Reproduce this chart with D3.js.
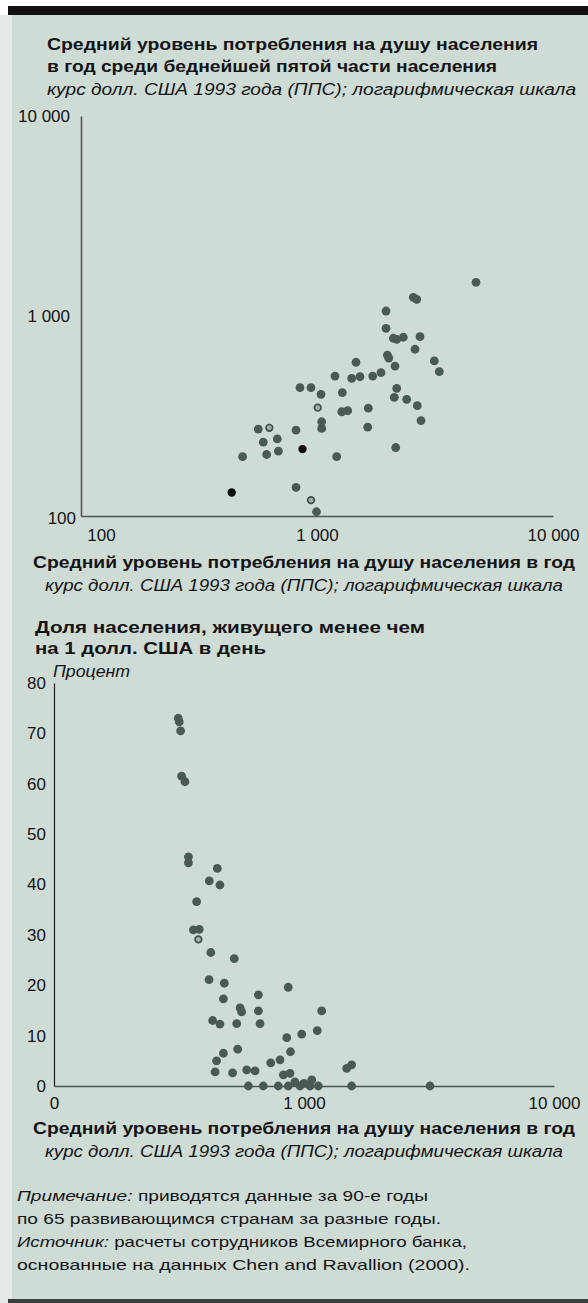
<!DOCTYPE html>
<html><head><meta charset="utf-8">
<script src="https://cdn.jsdelivr.net/npm/d3@7"></script>
<style>
body{margin:0;background:#fff}
svg{display:block}
text{font-family:"Liberation Sans",Arial,Helvetica,sans-serif;fill:#141414}
</style>
</head><body>
<svg id="c" width="588" height="1303"></svg>
<script>
// ---------- DATA ----------
// Chart 1: mean consumption per capita (x) vs consumption of poorest fifth (y), 1993 PPP $
const topConsumption = [4718,2559,2646,1961,1961,2106,2321,2732,2602,1987,2141,3141,3298,1463,1192,1403,1521,1722,1867,2177,1280,1040,847,943,1007,1273,1349,1650,2126,2399,2661,2759,1640,1047,1047,2156,1212,564,628,815,592,679,868,484,612,686,435,815,943,995,2177,2015];
const topPoorest     = [1474,1240,1212,1059,868,774,783,788,682,638,562,596,527,587,501,488,497,501,521,435,414,406,438,438,348,332,336,346,392,383,356,300,278,296,274,220,198,272,276,269,234,243,216,198,203,211,131,139,120,105,764,616];
const topKind        = ["n","n","n","n","n","n","n","n","n","n","n","n","n","n","n","n","n","n","n","n","n","n","n","n","r","n","n","n","n","n","n","n","n","n","n","n","n","n","r","n","n","n","b","n","n","n","b","n","r","n","n","n"];

// Chart 2: mean consumption per capita (x) vs share living on less than $1/day (y, %)
const botConsumption = [314,317,321,324,334,345,345,450,418,461,372,381,361,378,424,526,417,480,476,657,555,563,657,431,461,538,667,865,853,883,543,476,447,441,518,590,637,736,802,827,879,1074,1177,979,1130,1482,1551,599,687,789,865,964,1057,1141,1551,3192,1000,920];
const botPoverty     = [73.0,72.3,70.5,61.5,60.4,45.5,44.3,43.2,40.7,39.9,36.6,31.1,31.0,29.1,26.5,25.3,21.1,20.4,17.3,18.1,15.5,14.7,14.9,13.0,12.3,12.4,12.4,19.6,9.6,6.8,7.3,6.5,5.0,2.8,2.6,3.2,3.0,4.6,5.2,2.2,2.5,1.2,14.9,10.3,11.0,3.5,4.2,0,0,0,0,0,0,0,0,0,0.5,0.8];
const botKind        = botConsumption.map((d,i)=> i===13 ? "r" : "n");

// Ticks
const topXTicks = [100,1000,10000];
const topXTickLabels = ["100","1 000","10 000"];
const topYTicks = [100,1000,10000];
const topYTickLabels = ["100","1 000","10 000"];
const botXTicks = [100,1000,10000];
const botXTickLabels = ["0","1 000","10 000"];
const botYTicks = [0,10,20,30,40,50,60,70,80];

// Texts
const title1 = ["Средний уровень потребления на душу населения","в год среди беднейшей пятой части населения"];
const unitsLog = "курс долл. США 1993 года (ППС); логарифмическая шкала";
const xTitle = "Средний уровень потребления на душу населения в год";
const title2 = ["Доля населения, живущего менее чем","на 1 долл. США в день"];
const unit2 = "Процент";
const notes = [
  [["Примечание:",true],[" приводятся данные за 90-е годы",false]],
  [["по 65 развивающимся странам за разные годы.",false]],
  [["Источник:",true],[" расчеты сотрудников Всемирного банка,",false]],
  [["основанные на данных Chen and Ravallion (2000).",false]]
];

// ---------- DRAW ----------
const svg = d3.select("#c");
const W = 588, H = 1303;
svg.append("rect").attr("width",W).attr("height",H).attr("fill","#ffffff");
svg.append("rect").attr("x",0).attr("y",15).attr("width",12).attr("height",H-15).attr("fill","#e4ebe8");
svg.append("rect").attr("x",12).attr("y",15).attr("width",W-12).attr("height",H-19).attr("fill","#cfdcd6");
svg.append("rect").attr("x",8).attr("y",6).attr("width",W-8).attr("height",9).attr("fill","#111");
svg.append("rect").attr("x",8).attr("y",1299).attr("width",W-8).attr("height",4).attr("fill","#3a3f3d");

const defs = svg.append("defs");
defs.append("filter").attr("id","soft").attr("x","-50%").attr("y","-50%").attr("width","200%").attr("height","200%")
  .append("feGaussianBlur").attr("stdDeviation",0.55);

function txt(x,y,s,opt){
  const t = svg.append("text").attr("x",x).attr("y",y).text(s)
    .attr("font-size",opt.size||16)
    .attr("font-weight",opt.bold?"bold":"normal")
    .attr("font-style",opt.italic?"italic":"normal");
  if(opt.anchor) t.attr("text-anchor",opt.anchor);
  if(opt.len){ t.attr("textLength",opt.len).attr("lengthAdjust","spacingAndGlyphs"); }
  return t;
}

// Chart 1 headers
txt(47,50,title1[0],{bold:true,size:16,len:491});
txt(47,72,title1[1],{bold:true,size:16,len:450});
txt(47,95,unitsLog,{italic:true,size:16,len:529});

// Scales chart 1
const xTop = d3.scaleLog().domain([100,10000]).range([81,553]);
const yTop = d3.scaleLog().domain([100,10000]).range([516,116]);

const gyTop = svg.append("g").attr("transform","translate(81,0)")
  .call(d3.axisLeft(yTop).tickValues(topYTicks).tickFormat((d,i)=>topYTickLabels[i]).tickSize(0).tickSizeOuter(0).tickPadding(11));
const gxTop = svg.append("g").attr("transform","translate(0,516)")
  .call(d3.axisBottom(xTop).tickValues(topXTicks).tickFormat((d,i)=>topXTickLabels[i]).tickSize(0).tickSizeOuter(0).tickPadding(13));
[gyTop,gxTop].forEach(g=>{
  g.select(".domain").attr("stroke","#4d5552").attr("stroke-width",1.6);
  g.selectAll("text").attr("font-size",17).attr("fill","#141414").attr("font-family","'Liberation Sans',Arial,sans-serif");
});
gxTop.selectAll(".tick").filter(d=>d===100).select("text").attr("dx",20);
gyTop.selectAll(".tick").filter(d=>d===100).select("text").attr("dx",6).attr("dy","0.45em");

function drawDots(g, xs, ys, kinds, xS, yS){
  const data = xs.map((v,i)=>({x:v,y:ys[i],k:kinds[i]}));
  g.selectAll("circle.n").data(data.filter(d=>d.k==="n")).join("circle").attr("class","n")
    .attr("cx",d=>xS(d.x)).attr("cy",d=>yS(d.y)).attr("r",4.4)
    .attr("fill","#4a5a54").attr("filter","url(#soft)");
  g.selectAll("circle.r").data(data.filter(d=>d.k==="r")).join("circle").attr("class","r")
    .attr("cx",d=>xS(d.x)).attr("cy",d=>yS(d.y)).attr("r",3.3)
    .attr("fill","#a3b1ac").attr("stroke","#3f4e49").attr("stroke-width",1.7);
  g.selectAll("circle.b").data(data.filter(d=>d.k==="b")).join("circle").attr("class","b")
    .attr("cx",d=>xS(d.x)).attr("cy",d=>yS(d.y)).attr("r",4.2)
    .attr("fill","#0c0c0c");
}
drawDots(svg.append("g"), topConsumption, topPoorest, topKind, xTop, yTop);

txt(304,568,xTitle,{bold:true,size:16,anchor:"middle",len:542});
txt(304,591,unitsLog,{italic:true,size:16,anchor:"middle",len:518});

// Chart 2 headers
txt(35,633,title2[0],{bold:true,size:16,len:390});
txt(35,654,title2[1],{bold:true,size:16,len:231});
txt(53,677,unit2,{italic:true,size:16,len:77});

const xBot = d3.scaleLog().domain([100,10000]).range([54,554]);
const yBot = d3.scaleLinear().domain([0,80]).range([1086,683]);

const gyBot = svg.append("g").attr("transform","translate(54,0)")
  .call(d3.axisLeft(yBot).tickValues(botYTicks).tickSize(0).tickSizeOuter(0).tickPadding(8));
const gxBot = svg.append("g").attr("transform","translate(0,1086)")
  .call(d3.axisBottom(xBot).tickValues(botXTicks).tickFormat((d,i)=>botXTickLabels[i]).tickSize(0).tickSizeOuter(0).tickPadding(11));
gyBot.select(".domain").attr("stroke","#1a1a1a").attr("stroke-width",1.2);
gxBot.select(".domain").attr("stroke","#4d5552").attr("stroke-width",1.6);
[gyBot,gxBot].forEach(g=>g.selectAll("text").attr("font-size",17).attr("fill","#141414").attr("font-family","'Liberation Sans',Arial,sans-serif"));

drawDots(svg.append("g"), botConsumption, botPoverty, botKind, xBot, yBot);

txt(304,1134,xTitle,{bold:true,size:16,anchor:"middle",len:542});
txt(304,1157,unitsLog,{italic:true,size:16,anchor:"middle",len:518});

// Notes
const noteY = [1201,1224,1247,1270];
const noteLen = [411,424,450,453];
notes.forEach((line,i)=>{
  const t = svg.append("text").attr("x",17).attr("y",noteY[i]).attr("font-size",15)
    .attr("textLength",noteLen[i]).attr("lengthAdjust","spacingAndGlyphs");
  line.forEach(([s,it])=>t.append("tspan").attr("font-style",it?"italic":"normal").text(s));
});
</script>
</body></html>
